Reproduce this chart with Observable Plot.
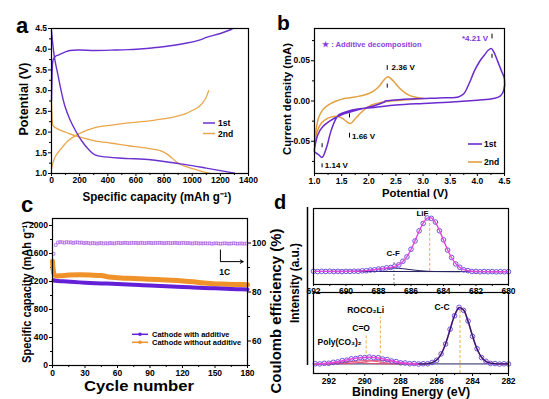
<!DOCTYPE html>
<html><head><meta charset="utf-8">
<script src="https://cdn.jsdelivr.net/npm/d3@7"></script>
<script src="https://cdn.jsdelivr.net/npm/@observablehq/plot@0.6"></script>
<style>
html,body{margin:0;padding:0;background:#fff;}
#fig{position:relative;width:549px;height:399px;overflow:hidden;background:#fff;}
</style></head><body><div id="fig"></div>
<script>
// ================= DATA =================
// Panel a: galvanostatic profiles
const a1DisCap = [0, 10, 23, 47, 71, 95, 130, 178, 214, 261, 309, 380, 546, 630, 737, 903, 1000, 1100, 1200, 1300];
const a1DisV   = [4.45, 4.1, 3.76, 3.36, 2.96, 2.63, 2.31, 1.99, 1.79, 1.59, 1.45, 1.40, 1.36, 1.35, 1.32, 1.24, 1.19, 1.13, 1.07, 1.01];
const a1ChCap  = [0, 3, 6, 12, 25, 47, 95, 130, 200, 309, 450, 546, 650, 737, 820, 963, 1050, 1106, 1200, 1272, 1290];
const a1ChV    = [2.75, 3.2, 3.55, 3.75, 3.82, 3.86, 3.93, 3.97, 3.98, 3.97, 3.98, 3.99, 4.01, 4.04, 4.07, 4.15, 4.22, 4.29, 4.38, 4.47, 4.5];
const a2DisCap = [0, 3, 6, 12, 47, 120, 190, 309, 428, 546, 640, 700, 773, 830, 903, 1010, 1080, 1129];
const a2DisV   = [2.72, 2.45, 2.25, 2.15, 2.07, 1.97, 1.89, 1.79, 1.73, 1.67, 1.63, 1.60, 1.55, 1.45, 1.24, 1.11, 1.04, 1.0];
const a2ChCap  = [0, 10, 25, 47, 80, 118, 190, 250, 309, 428, 546, 640, 737, 820, 900, 951, 1000, 1050, 1090, 1117];
const a2ChV    = [1.11, 1.25, 1.4, 1.51, 1.65, 1.79, 1.95, 2.04, 2.11, 2.17, 2.22, 2.25, 2.29, 2.33, 2.39, 2.44, 2.52, 2.62, 2.78, 3.0];
const aXTicks = [0, 200, 400, 600, 800, 1000, 1200, 1400];
const aXMinor = [100, 300, 500, 700, 900, 1100, 1300];
const aYTicks = [1.0, 1.5, 2.0, 2.5, 3.0, 3.5, 4.0, 4.5];
const aYMinor = [1.25, 1.75, 2.25, 2.75, 3.25, 3.75, 4.25];

// Panel b: cyclic voltammetry
const b1V = [2.30, 2.6, 3.0, 3.4, 3.65, 3.75, 3.85, 3.95, 4.05, 4.13, 4.2, 4.26, 4.31, 4.37, 4.44, 4.5, 4.48, 4.42, 4.3, 4.0, 3.6, 3.0, 2.5, 2.1, 1.8, 1.6, 1.45, 1.38, 1.3, 1.22, 1.14, 1.08, 1.02, 1.0, 1.02, 1.06, 1.15, 1.3, 1.5, 1.8, 2.1, 2.3];
const b1I = [0.000, 0.002, 0.003, 0.004, 0.005, 0.009, 0.022, 0.038, 0.050, 0.057, 0.063, 0.065, 0.060, 0.050, 0.038, 0.027, 0.012, 0.006, 0.003, 0.001, -0.001, -0.003, -0.005, -0.008, -0.010, -0.013, -0.017, -0.024, -0.038, -0.058, -0.070, -0.067, -0.064, -0.063, -0.052, -0.042, -0.032, -0.024, -0.017, -0.011, -0.006, -0.001];
const b2V = [3.0, 2.8, 2.6, 2.4, 2.2, 2.05, 1.95, 1.85, 1.75, 1.66, 1.58, 1.5, 1.4, 1.3, 1.2, 1.12, 1.06, 1.02, 1.0, 1.03, 1.08, 1.15, 1.25, 1.4, 1.55, 1.75, 1.95, 2.1, 2.2, 2.28, 2.35, 2.45, 2.55, 2.65, 2.75, 2.85, 3.0];
const b2I = [0.003, 0.002, 0.001, 0.000, -0.002, -0.005, -0.009, -0.015, -0.022, -0.028, -0.025, -0.021, -0.019, -0.020, -0.023, -0.028, -0.036, -0.045, -0.055, -0.035, -0.020, -0.011, -0.005, 0.000, 0.003, 0.005, 0.008, 0.013, 0.019, 0.026, 0.030, 0.025, 0.017, 0.011, 0.007, 0.005, 0.003];
const bXTicks = [1.0, 1.5, 2.0, 2.5, 3.0, 3.5, 4.0, 4.5];
const bXMinor = [1.25, 1.75, 2.25, 2.75, 3.25, 3.75, 4.25];
const bYTicks = [-0.05, 0.00, 0.05];
const bYMinor = [-0.075, -0.025, 0.025, 0.075];
const bPeakMarks = [
  {x: 4.27, y1: 0.077, y2: 0.083}, {x: 4.27, y1: 0.053, y2: 0.058},
  {x: 2.34, y1: 0.038, y2: 0.044}, {x: 2.34, y1: 0.016, y2: 0.021},
  {x: 1.645, y1: -0.016, y2: -0.021}, {x: 1.645, y1: -0.040, y2: -0.046},
  {x: 1.14, y1: -0.053, y2: -0.058}, {x: 1.14, y1: -0.078, y2: -0.083}
];
const bLabels = [
  {x: 2.42, y: 0.0415, t: "2.36 V"},
  {x: 1.69, y: -0.0434, t: "1.66 V"},
  {x: 1.19, y: -0.0805, t: "1.14 V"}
];

// Panel c: cycling
const cWithCycle = [1, 3, 10, 20, 30, 40, 50, 60, 70, 80, 90, 100, 110, 120, 130, 140, 150, 160, 170, 180];
const cWithCap   = [1218, 1210, 1202, 1192, 1183, 1176, 1170, 1163, 1157, 1150, 1143, 1137, 1130, 1122, 1115, 1108, 1102, 1096, 1090, 1085];
const cWithoutCycle = [0, 1, 2, 4, 8, 15, 25, 35, 45, 52, 60, 70, 80, 90, 100, 110, 120, 130, 140, 150, 160, 170, 180];
const cWithoutCap   = [1490, 1330, 1290, 1280, 1283, 1292, 1295, 1292, 1285, 1265, 1255, 1245, 1240, 1232, 1226, 1218, 1208, 1195, 1178, 1166, 1162, 1158, 1152];
const ceVals = [95.6, 99.2, 100.2, 100.4, 100.3, 100.1, 100.4, 100.2, 100.3, 100.0,
  100.2, 100.3, 100.1, 100.2, 99.9, 100.1, 100.0, 99.8, 100.0, 99.9,
  99.8, 99.9, 100.0, 99.8, 99.9, 99.8, 100.0, 99.9, 99.8, 100.0,
  100.1, 99.9, 100.0, 100.1, 100.0, 99.9, 100.1, 100.0, 100.1, 99.9,
  100.0, 100.1, 99.9, 100.0, 100.1, 100.0, 99.9, 100.1, 100.0, 100.1,
  100.0, 99.9, 100.0, 100.1, 99.9, 100.0, 100.1, 100.0, 99.9, 100.0,
  100.1, 99.9, 100.0, 99.9, 99.8, 99.9, 100.0, 99.8, 99.9, 99.8,
  99.9, 99.8, 99.9, 99.7, 99.8, 99.9, 99.8, 99.7, 99.8, 99.9,
  99.8, 99.7, 99.8, 99.9, 99.8, 99.7, 99.8, 99.8, 99.7, 99.8];
const cXTicks = [0, 30, 60, 90, 120, 150, 180];
const cXMinor = [15, 45, 75, 105, 135, 165];
const cYTicks = [0, 400, 800, 1200, 1600, 2000];
const cYMinor = [200, 600, 1000, 1400, 1800];
const ceTicks = [60, 80, 100];
const ceMinor = [50, 70, 90];

// Panel d: XPS F 1s (top) and C 1s (bottom)
const fE = [692, 691.75, 691.5, 691.25, 691, 690.75, 690.5, 690.25, 690, 689.75, 689.5, 689.25, 689, 688.75, 688.5, 688.25, 688, 687.75, 687.5, 687.25, 687, 686.75, 686.5, 686.25, 686, 685.75, 685.5, 685.25, 685, 684.75, 684.5, 684.25, 684, 683.75, 683.5, 683.25, 683, 682.75, 682.5, 682.25, 682, 681.75, 681.5, 681.25, 681, 680.75, 680.5, 680.25, 680];
const fObs = [0.192, 0.188, 0.191, 0.189, 0.192, 0.188, 0.190, 0.187, 0.191, 0.189, 0.193, 0.191, 0.198, 0.199, 0.209, 0.212, 0.224, 0.228, 0.241, 0.246, 0.265, 0.284, 0.336, 0.400, 0.510, 0.630, 0.776, 0.884, 0.963, 0.958, 0.904, 0.778, 0.646, 0.498, 0.391, 0.298, 0.250, 0.212, 0.201, 0.189, 0.190, 0.184, 0.188, 0.185, 0.187, 0.183, 0.186, 0.184, 0.186];
const fFit = [0.190, 0.190, 0.190, 0.190, 0.190, 0.189, 0.189, 0.189, 0.190, 0.190, 0.191, 0.193, 0.196, 0.201, 0.207, 0.214, 0.222, 0.230, 0.238, 0.248, 0.262, 0.287, 0.332, 0.404, 0.506, 0.634, 0.771, 0.889, 0.960, 0.963, 0.900, 0.783, 0.642, 0.503, 0.387, 0.302, 0.247, 0.215, 0.199, 0.191, 0.188, 0.186, 0.186, 0.186, 0.185, 0.185, 0.185, 0.185, 0.185];
const fBgE = [692, 680];
const fBg = [0.190, 0.185];
const fCFE = [691, 690.5, 690, 689.5, 689, 688.5, 688, 687.5, 687, 686.5, 686, 685.5, 685, 684.5, 684, 683.5, 683];
const fCF  = [0.189, 0.189, 0.190, 0.191, 0.196, 0.207, 0.221, 0.234, 0.238, 0.229, 0.214, 0.201, 0.192, 0.188, 0.187, 0.186, 0.186];
const fXTicks = [692, 690, 688, 686, 684, 682, 680];
const fXMinor = [691, 689, 687, 685, 683, 681];

const sE = [292.75, 292.5, 292.25, 292, 291.75, 291.5, 291.25, 291, 290.75, 290.5, 290.25, 290, 289.75, 289.5, 289.25, 289, 288.75, 288.5, 288.25, 288, 287.75, 287.5, 287.25, 287, 286.75, 286.5, 286.25, 286, 285.75, 285.5, 285.25, 285, 284.75, 284.5, 284.25, 284, 283.75, 283.5, 283.25, 283, 282.75, 282.5, 282.25, 282];
const sFit = [0.131, 0.132, 0.136, 0.141, 0.149, 0.159, 0.172, 0.184, 0.196, 0.206, 0.213, 0.218, 0.220, 0.218, 0.211, 0.200, 0.186, 0.172, 0.159, 0.148, 0.141, 0.135, 0.133, 0.131, 0.131, 0.135, 0.147, 0.183, 0.262, 0.404, 0.597, 0.788, 0.894, 0.862, 0.709, 0.508, 0.333, 0.220, 0.163, 0.140, 0.133, 0.130, 0.130, 0.130];
const sObs = [0.133, 0.130, 0.138, 0.139, 0.152, 0.157, 0.175, 0.181, 0.199, 0.203, 0.216, 0.215, 0.223, 0.215, 0.214, 0.197, 0.189, 0.169, 0.162, 0.145, 0.143, 0.133, 0.135, 0.129, 0.133, 0.133, 0.150, 0.180, 0.266, 0.400, 0.601, 0.784, 0.898, 0.858, 0.713, 0.504, 0.337, 0.216, 0.166, 0.137, 0.135, 0.128, 0.132, 0.129];
const sHumpE = [292.75, 292.5, 292.25, 292, 291.75, 291.5, 291.25, 291, 290.75, 290.5, 290.25, 290, 289.75, 289.5, 289.25, 289, 288.75, 288.5, 288.25, 288, 287.75, 287.5, 287.25, 287, 286.75];
const sPoly  = [0.131, 0.132, 0.135, 0.139, 0.144, 0.151, 0.157, 0.160, 0.159, 0.156, 0.150, 0.143, 0.138, 0.134, 0.132, 0.131, 0.130, 0.130, 0.130, 0.130, 0.130, 0.130, 0.130, 0.130, 0.130];
const sCO    = [0.130, 0.130, 0.131, 0.132, 0.134, 0.138, 0.143, 0.151, 0.159, 0.167, 0.173, 0.175, 0.173, 0.167, 0.159, 0.151, 0.143, 0.138, 0.134, 0.132, 0.131, 0.130, 0.130, 0.130, 0.130];
const sROCO  = [0.130, 0.130, 0.130, 0.130, 0.130, 0.131, 0.132, 0.134, 0.138, 0.143, 0.151, 0.160, 0.170, 0.177, 0.180, 0.178, 0.173, 0.164, 0.155, 0.146, 0.140, 0.135, 0.133, 0.131, 0.130];
const sCCE = [287, 286.75, 286.5, 286.25, 286, 285.75, 285.5, 285.25, 285, 284.75, 284.5, 284.25, 284, 283.75, 283.5, 283.25, 283, 282.75, 282.5, 282.25, 282];
const sCC  = [0.131, 0.131, 0.135, 0.147, 0.183, 0.262, 0.404, 0.597, 0.788, 0.894, 0.862, 0.709, 0.508, 0.333, 0.220, 0.163, 0.140, 0.133, 0.130, 0.130, 0.130];
const sXTicks = [292, 290, 288, 286, 284, 282];
const sXMinor = [291, 289, 287, 285, 283];

// ================= HELPERS =================
const FONT = '"Liberation Sans", Arial, Helvetica, sans-serif';
const fig = document.getElementById("fig");
const zip = (xs, ys) => xs.map((x, i) => ({x, y: ys[i]}));
function place(opts, left, top) {
  const svg = Plot.plot(Object.assign({
    style: {background: "transparent", fontFamily: FONT, fontSize: "8.5px", fontWeight: "bold", color: "#000", overflow: "visible"}
  }, opts));
  svg.style.position = "absolute";
  svg.style.left = left + "px";
  svg.style.top = top + "px";
  svg.style.maxWidth = "none";
  fig.appendChild(svg);
  return svg;
}
const majX = (t, f, pad = 1.5) => Plot.axisX({ticks: t, tickSize: 3, tickPadding: pad, label: null, tickFormat: f});
const minX = (t) => Plot.axisX({ticks: t, tickSize: 2, label: null, tickFormat: () => ""});
const majY = (t, f, anchor = "left") => Plot.axisY({ticks: t, anchor, tickSize: 3, tickPadding: 1.5, label: null, tickFormat: f});
const minY = (t, anchor = "left") => Plot.axisY({ticks: t, anchor, tickSize: 2, label: null, tickFormat: () => ""});

const PA = "#6a30d0", OA = "#eaa64c";
const PB = "#6a2bcf", OB = "#e3a040";
const PC = "#6420d6", OC = "#f0922a", CEc = "#b36ae6";

// ================= PANEL a =================
place({
  width: 275, height: 200, marginLeft: 51, marginRight: 27, marginTop: 28, marginBottom: 27,
  x: {domain: [0, 1400]}, y: {domain: [1, 4.5]},
  marks: [
    majX(aXTicks, d => String(d), 0.5), minX(aXMinor),
    majY(aYTicks, d => d.toFixed(1)), minY(aYMinor),
    Plot.line(zip(a2DisCap, a2DisV), {x: "x", y: "y", stroke: OA, strokeWidth: 1.3, curve: "catmull-rom"}),
    Plot.line(zip(a2ChCap, a2ChV), {x: "x", y: "y", stroke: OA, strokeWidth: 1.3, curve: "catmull-rom"}),
    Plot.line(zip(a1DisCap, a1DisV), {x: "x", y: "y", stroke: PA, strokeWidth: 1.4, curve: "catmull-rom"}),
    Plot.line(zip(a1ChCap, a1ChV), {x: "x", y: "y", stroke: PA, strokeWidth: 1.4, curve: "catmull-rom"}),
    Plot.frame({stroke: "#000", strokeWidth: 1.2})
  ]
}, 0, 0);

// ================= PANEL b =================
place({
  width: 274, height: 200, marginLeft: 39, marginRight: 45, marginTop: 28, marginBottom: 27,
  x: {domain: [1.0, 4.5]}, y: {domain: [-0.09, 0.09]},
  marks: [
    majX(bXTicks, d => d.toFixed(1)), minX(bXMinor),
    majY(bYTicks, d => d.toFixed(2)), minY(bYMinor),
    Plot.line(zip(b2V, b2I), {x: "x", y: "y", stroke: OB, strokeWidth: 1.5, curve: "catmull-rom"}),
    Plot.line(zip(b1V, b1I), {x: "x", y: "y", stroke: PB, strokeWidth: 1.5, curve: "catmull-rom"}),
    Plot.ruleX(bPeakMarks, {x: "x", y1: "y1", y2: "y2", stroke: "#000", strokeWidth: 1}),
    Plot.text(bLabels, {x: "x", y: "y", text: "t", textAnchor: "start", fontSize: 8, fontWeight: "bold", fill: "#000"}),
    Plot.text(["*4.21 V"], {x: 4.2, y: 0.078, text: d => d, textAnchor: "end", fontSize: 8, fontWeight: "bold", fill: "#7a35d8"}),
    Plot.text(["\u2605 : Additive decomposition"], {x: 1.14, y: 0.0705, text: d => d, textAnchor: "start", fontSize: 7.6, fontWeight: "bold", fill: "#8a3fe0"}),
    Plot.frame({stroke: "#000", strokeWidth: 1.2})
  ]
}, 275, 0);

// ================= PANEL c =================
const CE_MIN = 50, CE_MAX = 110, CAP_MAX = 2100;
const ceToCap = v => (v - CE_MIN) / (CE_MAX - CE_MIN) * CAP_MAX;
const capToCe = v => v / CAP_MAX * (CE_MAX - CE_MIN) + CE_MIN;
const ceData = ceVals.map((v, i) => ({x: 1 + 2 * i, y: ceToCap(v)}));
const arrowCycle = [155, 176];
const arrowCE = [97.1, 92.4];
const labelC = [{x: 159, y: 1330, t: "1C"}];
place({
  width: 275, height: 204, marginLeft: 52, marginRight: 28, marginTop: 23, marginBottom: 34,
  x: {domain: [0, 180]}, y: {domain: [0, CAP_MAX]},
  marks: [
    majX(cXTicks, d => String(d)), minX(cXMinor),
    majY(cYTicks, d => String(d)), minY(cYMinor),
    majY(ceTicks.map(ceToCap), d => String(Math.round(capToCe(d))), "right"),
    minY(ceMinor.map(ceToCap), "right"),
    Plot.line(zip(cWithoutCycle, cWithoutCap), {x: "x", y: "y", stroke: OC, strokeWidth: 5, curve: "catmull-rom"}),
    Plot.line(zip(cWithCycle, cWithCap), {x: "x", y: "y", stroke: PC, strokeWidth: 4, curve: "catmull-rom"}),
    Plot.dot(ceData, {x: "x", y: "y", symbol: "square", r: 1.5, stroke: CEc, strokeWidth: 0.8, fill: "none"}),
    Plot.ruleX([arrowCycle[0]], {y1: ceToCap(arrowCE[0]), y2: ceToCap(arrowCE[1]), stroke: "#000", strokeWidth: 1}),
    Plot.arrow([0], {x1: arrowCycle[0], x2: arrowCycle[1], y1: ceToCap(arrowCE[1]), y2: ceToCap(arrowCE[1]), stroke: "#000", strokeWidth: 1, headLength: 5}),
    Plot.text(labelC, {x: "x", y: "y", text: "t", fontSize: 8.5, fontWeight: "bold", fill: "#000"}),
    Plot.frame({stroke: "#000", strokeWidth: 1.2})
  ]
}, 0, 195);

// ================= PANEL d (top: F 1s) =================
const CIRC = "#5e3fd6", ENV = "#e347e0", NAVY = "#24215e", DASHY = "#e8b048", HUMP = "#e8507a";
place({
  width: 274, height: 100, marginLeft: 38, marginRight: 41, marginTop: 8, marginBottom: 16,
  x: {domain: [692, 680]}, y: {domain: [0, 1.1], axis: null},
  marks: [
    Plot.axisX({ticks: fXTicks, tickSize: 2, tickPadding: 1, label: null, tickFormat: d => String(d)}),
    minX(fXMinor),
    Plot.ruleX([684.85], {y1: 0.19, y2: 0.96, stroke: DASHY, strokeDasharray: "3,2", strokeWidth: 1}),
    Plot.ruleX([687.05], {y1: 0.0, y2: 0.35, stroke: "#888", strokeDasharray: "2,2", strokeWidth: 1}),
    Plot.line(zip(fBgE, fBg), {x: "x", y: "y", stroke: NAVY, strokeWidth: 1}),
    Plot.line(zip(fCFE, fCF), {x: "x", y: "y", stroke: NAVY, strokeWidth: 1, curve: "catmull-rom"}),
    Plot.dot(zip(fE, fObs), {x: "x", y: "y", r: 2.3, stroke: CIRC, strokeWidth: 0.9, fill: "none"}),
    Plot.line(zip(fE, fFit), {x: "x", y: "y", stroke: ENV, strokeWidth: 1.4, curve: "catmull-rom"}),
    Plot.text([{x: 685.3, y: 1.03, t: "LiF"}, {x: 687.1, y: 0.45, t: "C-F"}], {x: "x", y: "y", text: "t", fontSize: 8, fontWeight: "bold", fill: "#000"}),
    Plot.frame({stroke: "#000", strokeWidth: 1.2})
  ]
}, 275, 200);

// ================= PANEL d (bottom: C 1s) =================
place({
  width: 274, height: 114, marginLeft: 38, marginRight: 41, marginTop: 7, marginBottom: 26,
  x: {domain: [292.85, 282]}, y: {domain: [0, 1.1], axis: null},
  marks: [
    Plot.axisX({ticks: sXTicks, tickSize: 3, tickPadding: 1, label: null, tickFormat: d => String(d)}),
    minX(sXMinor),
    Plot.ruleX([284.7], {y1: 0, y2: 0.89, stroke: DASHY, strokeDasharray: "3,2", strokeWidth: 1}),
    Plot.ruleX([289.13], {y1: 0.13, y2: 0.765, stroke: DASHY, strokeDasharray: "3,2", strokeWidth: 1}),
    Plot.ruleX([289.92], {y1: 0.13, y2: 0.54, stroke: DASHY, strokeDasharray: "3,2", strokeWidth: 1}),
    Plot.ruleY([0.13], {stroke: NAVY, strokeWidth: 1}),
    Plot.line(zip(sHumpE, sPoly), {x: "x", y: "y", stroke: HUMP, strokeWidth: 1, curve: "catmull-rom"}),
    Plot.line(zip(sHumpE, sCO), {x: "x", y: "y", stroke: HUMP, strokeWidth: 1, curve: "catmull-rom"}),
    Plot.line(zip(sHumpE, sROCO), {x: "x", y: "y", stroke: HUMP, strokeWidth: 1, curve: "catmull-rom"}),
    Plot.dot(zip(sE, sObs), {x: "x", y: "y", r: 2.3, stroke: CIRC, strokeWidth: 0.9, fill: "none"}),
    Plot.line(zip(sE, sFit), {x: "x", y: "y", stroke: ENV, strokeWidth: 1.6, curve: "catmull-rom"}),
    Plot.line(zip(sCCE, sCC), {x: "x", y: "y", stroke: NAVY, strokeWidth: 1.3, curve: "catmull-rom"}),
    Plot.text([{x: 285.7, y: 0.90, t: "C-C"}, {x: 289.95, y: 0.86, t: "ROCO\u2082Li"}, {x: 290.2, y: 0.61, t: "C=O"}, {x: 291.4, y: 0.42, t: "Poly(CO\u2083)\u2082"}],
      {x: "x", y: "y", text: "t", fontSize: 8.5, fontWeight: "bold", fill: "#000"}),
    Plot.frame({stroke: "#000", strokeWidth: 1.2})
  ]
}, 275, 285);

// ================= OVERLAY: letters, titles, legends =================
const ov = d3.select(fig).append("svg")
  .attr("width", 549).attr("height", 399)
  .style("position", "absolute").style("left", "0px").style("top", "0px")
  .style("font-family", FONT).style("font-weight", "bold").style("pointer-events", "none");

function addText(s, x, y, size, o = {}) {
  const t = ov.append("text").attr("font-size", size).attr("fill", o.fill || "#000")
    .attr("text-anchor", o.anchor || "middle").text(s);
  if (o.rotate) t.attr("transform", `translate(${x},${y}) rotate(-90)`);
  else t.attr("x", x).attr("y", y);
  if (o.len) t.attr("textLength", o.len).attr("lengthAdjust", "spacingAndGlyphs");
  return t;
}
const CAP_TITLE = "Specific capacity (mAh g\u207B\u00B9)";

// panel letters
addText("a", 16, 33, 22, {anchor: "start"});
addText("b", 277, 30, 21, {anchor: "start"});
addText("c", 21, 212, 22, {anchor: "start"});
addText("d", 274, 209, 20, {anchor: "start"});

// axis titles
addText(CAP_TITLE, 157, 200.5, 12, {len: 149});
addText("Potential (V)", 27.5, 99, 12, {rotate: true, len: 73});
addText("Current density (mA)", 290.5, 99, 11.5, {rotate: true, len: 112});
addText("Potential (V)", 415, 197, 11.5, {len: 66});
addText(CAP_TITLE, 30.5, 292, 12, {rotate: true, len: 142});
addText("Cycle number", 139, 391, 15.5, {len: 110});
addText("Coulomb efficiency (%)", 281, 311, 14, {rotate: true, len: 165});
addText("Intensity (a.u.)", 299, 283, 12, {rotate: true, len: 80});
addText("Binding Energy (eV)", 411, 395.5, 12.5, {len: 118});

// panel d shared left axis line
ov.append("line").attr("x1", 307.5).attr("x2", 307.5).attr("y1", 207).attr("y2", 365).attr("stroke", "#000").attr("stroke-width", 1.5);

// legend a
const legA = [{c: PA, y: 123, t: "1st"}, {c: OA, y: 133.5, t: "2nd"}];
legA.forEach(l => {
  ov.append("line").attr("x1", 203).attr("x2", 215).attr("y1", l.y).attr("y2", l.y).attr("stroke", l.c).attr("stroke-width", 1.5);
  addText(l.t, 218, l.y + 3, 8.5, {anchor: "start"});
});
// legend b
const legB = [{c: PB, y: 144, t: "1st"}, {c: OB, y: 162, t: "2nd"}];
legB.forEach(l => {
  ov.append("line").attr("x1", 468).attr("x2", 482).attr("y1", l.y).attr("y2", l.y).attr("stroke", l.c).attr("stroke-width", 1.6);
  addText(l.t, 484, l.y + 3, 8.5, {anchor: "start"});
});
// legend c
const legC = [{c: PC, y: 334.3, t: "Cathode with additive"}, {c: OC, y: 342.3, t: "Cathode without additive"}];
legC.forEach(l => {
  ov.append("line").attr("x1", 132).attr("x2", 148).attr("y1", l.y).attr("y2", l.y).attr("stroke", l.c).attr("stroke-width", 1.5);
  ov.append("circle").attr("cx", 140).attr("cy", l.y).attr("r", 1.8).attr("fill", l.c);
  addText(l.t, 152, l.y + 2.7, 7.5, {anchor: "start"});
});
</script></body></html>
